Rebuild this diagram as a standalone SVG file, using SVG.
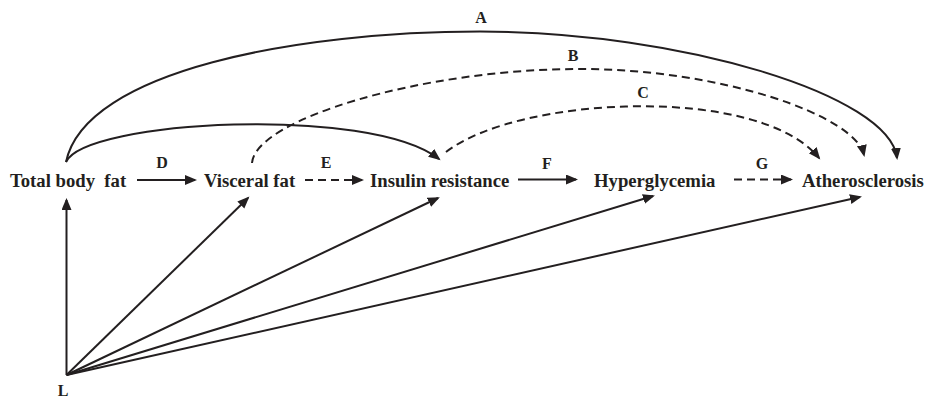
<svg xmlns="http://www.w3.org/2000/svg" width="927" height="400" viewBox="0 0 927 400">
<style>
.node{font-family:"Liberation Serif","Times New Roman",serif;font-weight:bold;font-size:18.7px;fill:#231f20;white-space:pre}
.lbl{font-family:"Liberation Serif","Times New Roman",serif;font-weight:bold;font-size:16px;fill:#231f20;text-anchor:middle}
.e{fill:none;stroke:#231f20;stroke-width:2;marker-end:url(#ah)}
.d{stroke-dasharray:8,5}
</style>
<defs>
<marker id="ah" markerUnits="userSpaceOnUse" markerWidth="13" markerHeight="11" refX="10" refY="5" orient="auto">
<path d="M0,0 L12,5 L0,10 z" fill="#231f20"/>
</marker>
</defs>
<rect width="927" height="400" fill="#fff"/>
<g id="connectors">
<path class="e" d="M137,180 L195,180"/>
<path class="e d" d="M305,180 L362,180"/>
<path class="e" d="M518,179.5 L576,179.5"/>
<path class="e d" d="M734,179.5 L791,179.5"/>
<path class="e" d="M66,162 C85,70 300,31.5 480,31.5 C680,31.5 890,95 897,158"/>
<path class="e" d="M66,162 C85,120 370,105 439,159"/>
<path class="e d" d="M252,163 C255,120 420,69 580,69 C720,69 855,115 864,155"/>
<path class="e d" d="M446,152 C520,95 760,85 819,158"/>
<path class="e" d="M66.5,375 L66.5,200"/>
<path class="e" d="M66.5,375 L248,198"/>
<path class="e" d="M66.5,375 L438,198"/>
<path class="e" d="M66.5,375 L653,196"/>
<path class="e" d="M66.5,375 L860,197"/>
<text class="lbl" x="481" y="23">A</text>
<text class="lbl" x="573" y="61">B</text>
<text class="lbl" x="643" y="98">C</text>
<text class="lbl" x="162" y="168">D</text>
<text class="lbl" x="326" y="168">E</text>
<text class="lbl" x="547" y="169">F</text>
<text class="lbl" x="762" y="169">G</text>
</g>
<g id="total"><text class="node" x="10" y="187">Total body  fat</text></g>
<g id="visceral"><text class="node" x="204" y="187">Visceral fat</text></g>
<g id="insulin"><text class="node" x="370" y="187">Insulin resistance</text></g>
<g id="hyper"><text class="node" x="594" y="187">Hyperglycemia</text></g>
<g id="athero"><text class="node" x="802" y="187">Atherosclerosis</text></g>
<g id="L"><text class="lbl" x="63" y="396">L</text></g>
</svg>
